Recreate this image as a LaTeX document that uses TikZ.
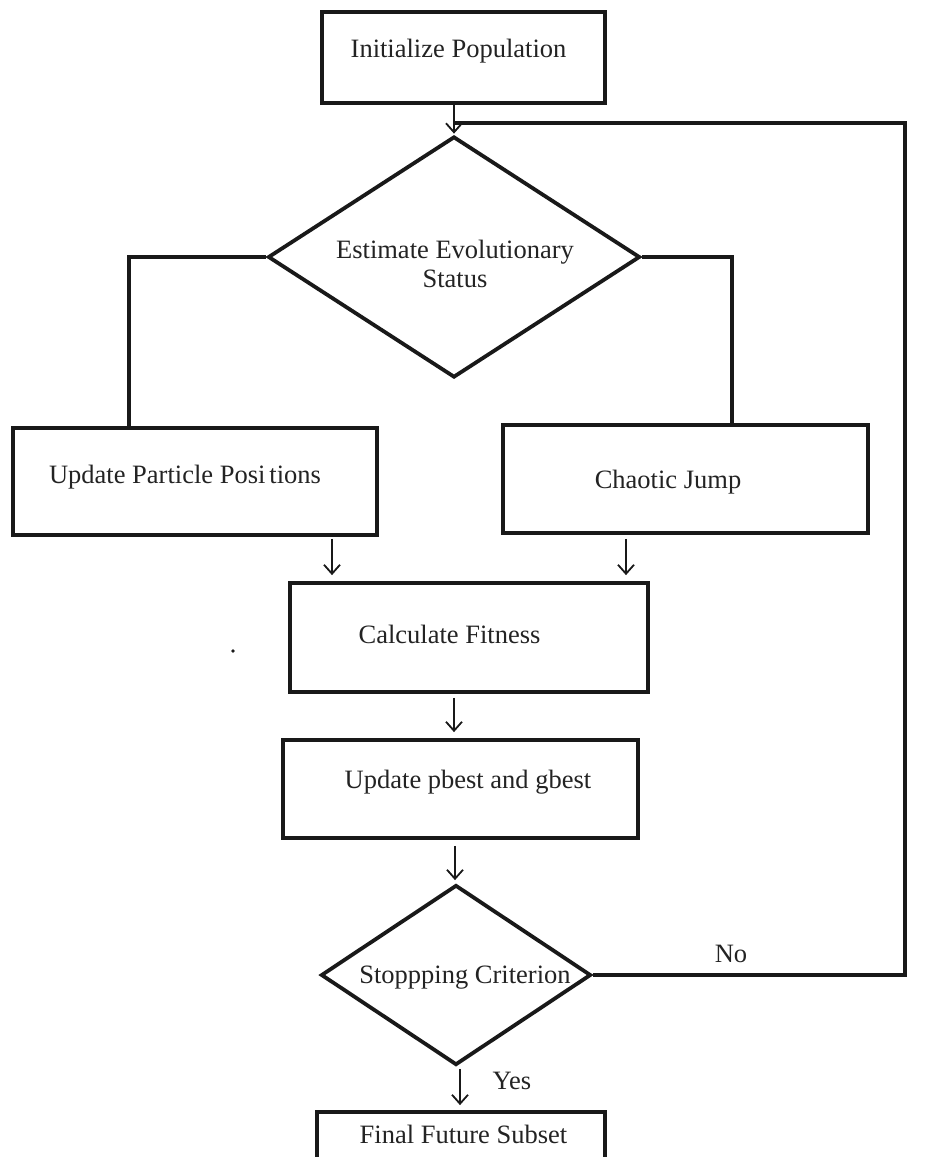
\documentclass[tikz,border=0pt]{standalone}
\usepackage{fontspec}
\setmainfont{Liberation Serif}
\usetikzlibrary{arrows.meta,shapes.geometric}
\definecolor{linec}{RGB}{25,25,25}
\definecolor{txtc}{RGB}{35,35,35}
\begin{document}
\begin{tikzpicture}[x=1pt,y=-1pt,
  box/.style={draw=linec,line width=3.8pt,rectangle,inner sep=0pt},
  dia/.style={draw=linec,line width=3.8pt,diamond,inner sep=0pt},
  lbl/.style={text=txtc,font=\fontsize{26.5}{29}\selectfont,inner sep=0pt,anchor=base},
  link/.style={draw=linec,line width=3.5pt},
  arr/.style={draw=linec,line width=2.5pt,-{Straight Barb[length=9pt,width=16pt,line width=1.8pt]}}]
\useasboundingbox (0,0) rectangle (929,1157);
% nodes
\node[box,minimum width=283pt,minimum height=91pt] (init) at (463.5,57.5) {};
\node[lbl] (tinit) at (458.5,57) {Initialize Population};
\node[dia,minimum width=372pt,minimum height=241pt] (d1) at (454,257) {};
\node[lbl,anchor=center,align=center] (td1) at (455,264) {Estimate Evolutionary\\Status};
\node[box,minimum width=364pt,minimum height=107pt] (upp) at (195,481.5) {};
\node[lbl] (tupp) at (185,483) {Update Particle Posi\hspace{4pt}tions};
\node[box,minimum width=365pt,minimum height=108pt] (chaos) at (685.5,479) {};
\node[lbl] (tchaos) at (668,488) {Chaotic Jump};
\node[box,minimum width=358pt,minimum height=109pt] (calc) at (469,637.5) {};
\node[lbl] (tcalc) at (449.5,643) {Calculate Fitness};
\node[box,minimum width=355pt,minimum height=98pt] (upd) at (460.5,789) {};
\node[lbl] (tupd) at (468,788) {Update pbest and gbest};
\node[dia,minimum width=270pt,minimum height=180pt] (d2) at (456,975) {};
\node[lbl] (td2) at (465,983) {Stoppping Criterion};
\node[box,minimum width=288pt,minimum height=70pt] (final) at (461,1147) {};
\node[lbl] (tfinal) at (463.5,1143) {Final Future Subset};
\node[lbl] (tno) at (731,962) {No};
\node[lbl] (tyes) at (512,1089) {Yes};
% helper coordinates
\coordinate (loopc) at (905,123);
\coordinate (joint) at (454,123);
\coordinate (lcol) at (129,257);
\coordinate (rcol) at (732,257);
\coordinate (a1) at (332,0);
\coordinate (a2) at (626,0);
\coordinate (a3) at (454,0);
\coordinate (a4) at (455,0);
\coordinate (a5) at (460,0);
% connectors
\draw[link] (d2.east) -| (loopc) -- (joint);
\draw[arr,shorten >=1pt] (init.south -| joint) -- (d1.north);
\draw[link] (d1.west) -- (lcol) -- (lcol |- upp.north);
\draw[link] (d1.east) -- (rcol) -- (rcol |- chaos.north);
\draw[arr,shorten <=2pt,shorten >=6pt] (a1 |- upp.south) -- (a1 |- calc.north);
\draw[arr,shorten <=4pt,shorten >=6pt] (a2 |- chaos.south) -- (a2 |- calc.north);
\draw[arr,shorten <=4pt,shorten >=6pt] (a3 |- calc.south) -- (a3 |- upd.north);
\draw[arr,shorten <=6pt,shorten >=3pt] (a4 |- upd.south) -- (a4 |- d2.north);
\draw[arr,shorten <=2pt,shorten >=5pt] (a5 |- d2.south) -- (a5 |- final.north);
% stray speck
\fill[linec] (233,651) circle (1.8pt);
\end{tikzpicture}
\end{document}
